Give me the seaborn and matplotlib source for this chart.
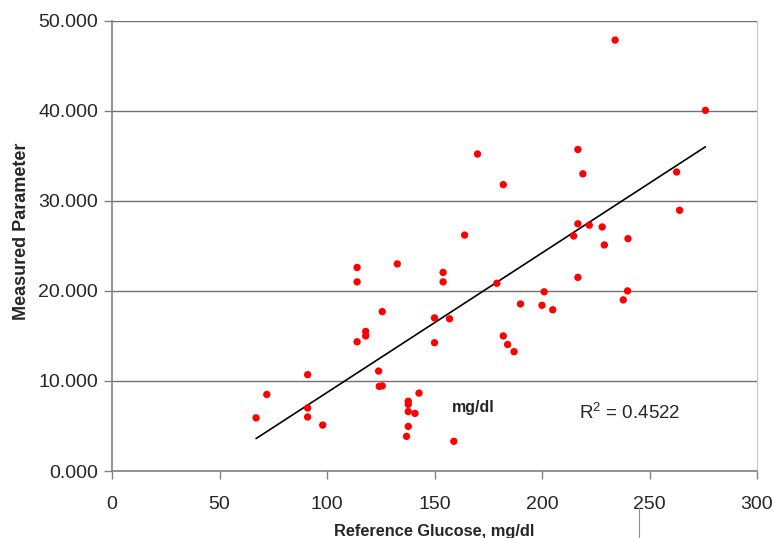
import numpy as np
import pandas as pd
import matplotlib
matplotlib.use('Agg')
import matplotlib.pyplot as plt
from matplotlib.lines import Line2D
import seaborn as sns

# Reference glucose (mg/dl) vs measured parameter
ref_glucose = [67, 72, 91, 91, 91, 98, 114, 114, 114, 118, 118, 125.7, 124, 124.3, 125.7,
               132.7, 154, 154, 179, 216.7, 239.8, 237.8, 201, 200, 205, 190, 150, 157, 150,
               182, 184, 187, 142.8, 137.8, 137.8, 137.8, 140.9, 137.8, 137, 159,
               234, 276, 170, 216.7, 219, 182, 262.6, 264, 216.7, 222, 214.7, 228, 229, 240, 164]
measured = [5.9, 8.5, 10.7, 7.0, 6.0, 5.1, 22.6, 21.0, 14.35, 15.5, 15.0, 17.7, 11.1, 9.4, 9.45,
            23.0, 22.05, 21.0, 20.85, 21.5, 20.0, 19.0, 19.9, 18.4, 17.9, 18.55, 17.0, 16.9, 14.25,
            15.0, 14.05, 13.25, 8.65, 7.75, 7.4, 6.6, 6.4, 4.95, 3.85, 3.3,
            47.85, 40.05, 35.2, 35.7, 33.0, 31.8, 33.2, 28.95, 27.45, 27.3, 26.1, 27.1, 25.1, 25.8, 26.2]
# linear trendline as drawn in the chart (ends)
trend_x = [67, 276]
trend_y = [3.6, 36.0]
x_ticks = [0, 50, 100, 150, 200, 250, 300]
y_ticks = [0, 10, 20, 30, 40, 50]
r2_text = r'R$^{\mathregular{2}}$ = 0.4522'

df = pd.DataFrame({'glucose': ref_glucose, 'measured': measured})
trend = pd.DataFrame({'glucose': trend_x, 'measured': trend_y})

sns.set_style('white')
plt.rcParams['font.family'] = ['Liberation Sans', 'DejaVu Sans']

fig = plt.figure(figsize=(7.73, 5.38), dpi=100)
ax = fig.add_axes([0.1449, 0.1245, 0.8344, 0.837])

sns.scatterplot(data=df, x='glucose', y='measured', color='#ff0000', s=28,
                edgecolor='none', ax=ax, zorder=3)
sns.lineplot(data=trend, x='glucose', y='measured', color='black', linewidth=1.2,
             ax=ax, zorder=2)

ax.set_xlim(0, 300)
ax.set_ylim(0, 50)
ax.set_xticks(x_ticks)
ax.set_yticks(y_ticks)
ax.set_yticklabels([f'{v:.3f}' for v in y_ticks])
ax.tick_params(axis='both', labelsize=14, direction='out', length=6, width=1, color='#808080')
ax.tick_params(axis='x', pad=12, bottom=True)
ax.tick_params(axis='y', pad=4, left=True)

ax.yaxis.grid(True, color='#707070', linewidth=1)
ax.set_axisbelow(True)
for side in ['left', 'bottom']:
    ax.spines[side].set_color('#808080')
    ax.spines[side].set_linewidth(1.2)
ax.spines['right'].set_color('#c8c8c8')
ax.spines['top'].set_visible(False)

ax.set_xlabel('Reference Glucose, mg/dl', fontsize=11.8, fontweight='bold')
ax.set_ylabel('Measured Parameter', fontsize=13, fontweight='bold')
ax.xaxis.set_label_coords(0.5, -0.118)
ax.yaxis.set_label_coords(-0.127, 0.533)

ax.text(168, 7.1, 'mg/dl', fontsize=11.5, fontweight='bold', ha='center', va='center')
ax.text(241, 6.5, r2_text, fontsize=13.5, ha='center', va='center')

# small stray mark under the axis
fig.add_artist(Line2D([639 / 773, 639 / 773], [0, 30 / 538], color='#909090', linewidth=0.8))

fig.savefig('out.png', dpi=100)
